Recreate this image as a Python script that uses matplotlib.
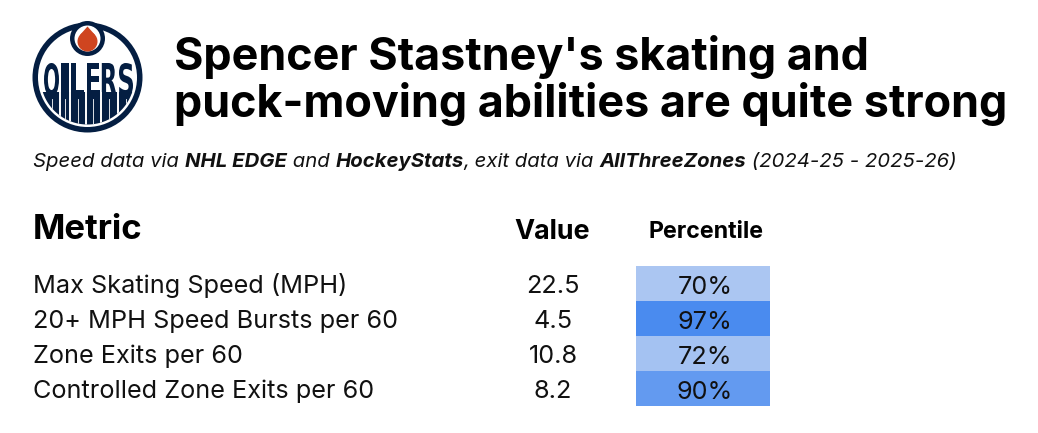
import matplotlib
matplotlib.use("Agg")
import numpy as np
import matplotlib.pyplot as plt
from matplotlib.patches import Circle, Polygon, PathPatch
from matplotlib.textpath import TextPath
from matplotlib.font_manager import FontProperties
from matplotlib.transforms import Affine2D
from matplotlib.colors import LinearSegmentedColormap, Normalize

# ---------------- data ----------------
title_lines = ["Spencer Stastney's skating and",
               "puck-moving abilities are quite strong"]
subtitle_parts = [("Speed data via ", "normal"), ("NHL EDGE", "bold"),
                  (" and ", "normal"), ("HockeyStats", "bold"),
                  (", exit data via ", "normal"), ("AllThreeZones", "bold"),
                  (" (2024-25 - 2025-26)", "normal")]
col_headers = ["Metric", "Value", "Percentile"]
metrics = ["Max Skating Speed (MPH)", "20+ MPH Speed Bursts per 60",
           "Zone Exits per 60", "Controlled Zone Exits per 60"]
values = [22.5, 4.5, 10.8, 8.2]
percentiles = [70, 97, 72, 90]

# ---------------- style ----------------
FONT = "Inter"
NAVY = "#041e42"
ORANGE = "#cf4520"
LIGHT = "#abc6f2"
DARK = "#4a8bef"

W, H = 1038, 433
fig = plt.figure(figsize=(W / 100, H / 100), dpi=100)
ax = fig.add_axes([0, 0, 1, 1])
ax.set_xlim(0, W)
ax.set_ylim(H, 0)
ax.axis("off")
renderer = fig.canvas.get_renderer()


def width_of(s, size, weight="normal", style="normal"):
    t = ax.text(0, 0, "|" + s + "|", fontsize=size, family=FONT, weight=weight, style=style)
    w1 = t.get_window_extent(renderer).width
    t.remove()
    t = ax.text(0, 0, "||", fontsize=size, family=FONT, weight=weight, style=style)
    w2 = t.get_window_extent(renderer).width
    t.remove()
    return w1 - w2


def fitted_size(s, target, weight="normal", style="normal", base=20.0):
    return base * target / width_of(s, base, weight, style)


# ---------------- logo ----------------
cx, cy, R = 87.5, 77.5, 55
ax.add_patch(Circle((cx, cy), R, fc=NAVY, ec="none"))
ax.add_patch(Circle((cx, cy), R - 5.5, fc="white", ec="none"))
# lower striped segment
Rs = R - 8
ytop = 92
t0 = np.arcsin((ytop - cy) / Rs)
tt = np.linspace(t0, np.pi - t0, 100)
seg = Polygon(np.column_stack([cx + Rs * np.cos(tt), cy + Rs * np.sin(tt)]),
              closed=True, fc=NAVY, ec="none")
ax.add_patch(seg)
# OILERS letters, one slot each
letters = "OILERS"
slot_w = [15, 8, 13, 13, 15, 14]
gap = 2.2
lx = 44.0
ly0, ly1 = 63, 96
fp = FontProperties(family="DejaVu Sans", weight="bold")
gap_x = []
for ch, sw in zip(letters, slot_w):
    tp = TextPath((0, 0), ch, size=1, prop=fp)
    bb = tp.get_extents()
    tr = Affine2D().translate(-bb.x0, -bb.y0).scale(sw / bb.width, -(ly1 - ly0) / bb.height).translate(lx, ly1)
    ax.add_patch(PathPatch(tr.transform_path(tp), fc=NAVY, ec="none"))
    # thin stripe inside each letter's column
    mid = lx + sw / 2
    ln, = ax.plot([mid, mid], [ly1 + 3, cy + R], color="white", lw=0.6)
    ln.set_clip_path(seg)
    lx += sw
    gap_x.append(lx + gap / 2)
    lx += gap
for gx in gap_x[:-1]:
    ln, = ax.plot([gx, gx], [ytop, cy + R], color="white", lw=1.4)
    ln.set_clip_path(seg)
# drop ring and drop
dcx, dcy = cx, 38.5
ax.add_patch(Circle((dcx, dcy), 17.5, fc=NAVY, ec="none"))
ax.add_patch(Circle((dcx, dcy), 13, fc="white", ec="none"))
r_d, c_d, tip = 10, 41.5, 26.5
d = c_d - tip
th = np.arccos(r_d / d)
ax.add_patch(Circle((dcx, c_d), r_d, fc=ORANGE, ec="none"))
ax.add_patch(Polygon([(dcx, tip), (dcx - r_d * np.sin(th), c_d - r_d * np.cos(th)),
                      (dcx + r_d * np.sin(th), c_d - r_d * np.cos(th))],
                     closed=True, fc=ORANGE, ec="none"))

# ---------------- title ----------------
tsize = fitted_size(title_lines[1], 836, weight="bold")
for line, yb in zip(title_lines, [70, 117]):
    ax.text(174, yb, line, fontsize=tsize, family=FONT, weight="bold", va="baseline", color="black")

# ---------------- subtitle ----------------
base = 12
tot = sum(width_of(s, base, w, "italic") for s, w in subtitle_parts)
ssize = base * 925 / tot
x = 33
for s, w in subtitle_parts:
    ax.text(x, 167, s, fontsize=ssize, family=FONT, weight=w, style="italic", va="baseline", color="#111111")
    x += width_of(s, ssize, w, "italic")

# ---------------- headers ----------------
ax.text(33, 239, col_headers[0], fontsize=fitted_size(col_headers[0], 110, "bold"),
        family=FONT, weight="bold", va="baseline")
ax.text(552, 239, col_headers[1], fontsize=fitted_size(col_headers[1], 76, "bold"),
        family=FONT, weight="bold", va="baseline", ha="center")
ax.text(705.5, 237.5, col_headers[2], fontsize=fitted_size(col_headers[2], 115, "bold"),
        family=FONT, weight="bold", va="baseline", ha="center")

# ---------------- table ----------------
row_h = 35
top = 266
rows = np.arange(len(metrics))
centers = top + row_h / 2 + rows * row_h
cmap = LinearSegmentedColormap.from_list("pct", [LIGHT, DARK])
norm = Normalize(vmin=min(percentiles), vmax=max(percentiles))
ax.barh(centers, [134] * len(rows), left=636, height=row_h,
        color=[cmap(norm(p)) for p in percentiles], edgecolor="none")

rsize = fitted_size(metrics[0], 314)
for c, m, v, p in zip(centers, metrics, values, percentiles):
    yb = c + 9.2
    ax.text(33, yb, m, fontsize=rsize, family=FONT, va="baseline", color="#111111")
    ax.text(553, yb, f"{v:.1f}", fontsize=rsize, family=FONT, va="baseline", ha="center", color="#111111")
    ax.text(705, yb + 1, f"{p}%", fontsize=rsize, family=FONT, va="baseline", ha="center", color="#111111")

fig.savefig("out.png", dpi=100)
